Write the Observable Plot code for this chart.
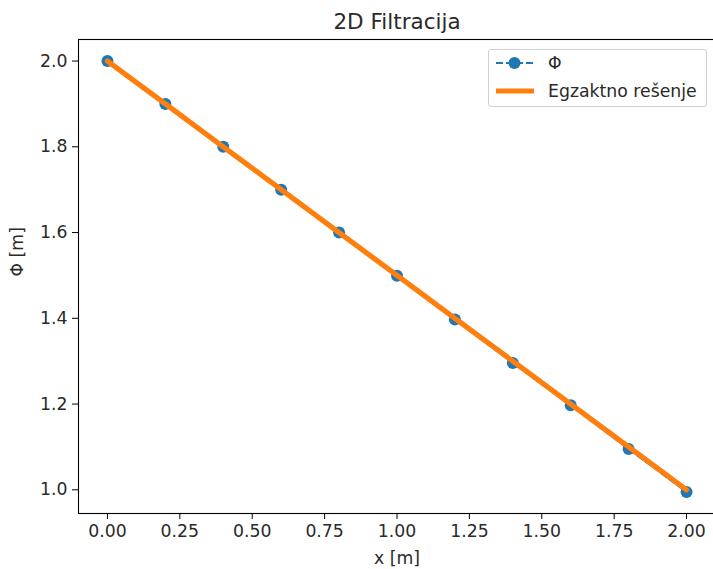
<!DOCTYPE html>
<html>
<head>
<meta charset="utf-8">
<script src="https://cdn.jsdelivr.net/npm/d3@7"></script>
<script src="https://cdn.jsdelivr.net/npm/@observablehq/plot@0.6"></script>
<style>
  html, body { margin: 0; padding: 0; background: #fff; overflow: hidden; }
  #wrap { position: relative; width: 713px; height: 569px; overflow: hidden; }
  #wrap > svg { max-width: none !important; display: block; }
  #legend { position: absolute; left: 488px; top: 49px; width: 219px; height: 58px;
    box-sizing: border-box; border: 1px solid #d0d0d0; border-radius: 3px; background: rgba(255,255,255,0.8); }
  svg text { font-family: "DejaVu Sans", sans-serif; }
</style>
</head>
<body>
<div id="wrap"></div>
<script>
const xValues = [0, 0.2, 0.4, 0.6, 0.8, 1.0, 1.2, 1.4, 1.6, 1.8, 2.0];
const phiValues = [2.0, 1.9, 1.8, 1.7, 1.6, 1.499, 1.397, 1.296, 1.197, 1.095, 0.995];
const exactValues = [2.0, 1.9, 1.8, 1.7, 1.6, 1.5, 1.4, 1.3, 1.2, 1.1, 1.0];
const xTicks = [0, 0.25, 0.5, 0.75, 1.0, 1.25, 1.5, 1.75, 2.0];
const yTicks = [1.0, 1.2, 1.4, 1.6, 1.8, 2.0];
const titleText = "2D Filtracija";
const xLabel = "x [m]";
const yLabel = "Φ [m]";
const seriesNames = ["Φ", "Egzaktno rešenje"];

const numData = xValues.map((x, i) => ({x, y: phiValues[i]}));
const exactData = xValues.map((x, i) => ({x, y: exactValues[i]}));

const blue = "#1f77b4", orange = "#ff7f0e";
const FS = 17.3;

const chart = Plot.plot({
  width: 720,
  height: 569,
  marginLeft: 78,
  marginRight: 5,
  marginTop: 39,
  marginBottom: 56,
  style: {fontFamily: "DejaVu Sans, sans-serif", fontSize: FS + "px", color: "#000", background: "#fff", maxWidth: "none"},
  x: {domain: [-0.1, 2.1], ticks: xTicks, tickFormat: d3.format(".2f"), label: null},
  y: {domain: [0.94475, 2.05025], ticks: yTicks, tickFormat: d3.format(".1f"), label: null},
  marks: [
    Plot.lineY(numData, {x: "x", y: "y", stroke: blue, strokeWidth: 2, strokeDasharray: "7,3"}),
    Plot.dot(numData, {x: "x", y: "y", r: 6, fill: blue, stroke: "none"}),
    Plot.lineY(exactData, {x: "x", y: "y", stroke: orange, strokeWidth: 5.2}),
    Plot.frame({stroke: "#000", strokeWidth: 1.1}),
    Plot.axisX({ticks: xTicks, tickFormat: d3.format(".2f"), tickSize: 6, tickPadding: 5, fontSize: FS, label: null, fill: "#2a2a2a"}),
    Plot.axisY({ticks: yTicks, tickFormat: d3.format(".1f"), tickSize: 6, tickPadding: 5, fontSize: FS, label: null, fill: "#2a2a2a"}),
    Plot.text([titleText], {frameAnchor: "top", dy: -26, fontSize: 21.5, fill: "#2a2a2a", text: d => d}),
    Plot.text([xLabel], {frameAnchor: "bottom", dy: 50, fontSize: FS, fill: "#2a2a2a", text: d => d}),
    Plot.text([yLabel], {frameAnchor: "left", dx: -61, rotate: -90, fontSize: FS, fill: "#2a2a2a", text: d => d})
  ]
});
document.getElementById("wrap").appendChild(chart);

// legend
const legend = document.createElement("div");
legend.id = "legend";
legend.innerHTML = `
<svg width="219" height="58" xmlns="http://www.w3.org/2000/svg">
  <line x1="7" x2="44" y1="13" y2="13" stroke="${blue}" stroke-width="2" stroke-dasharray="7,3"/>
  <circle cx="25.5" cy="13" r="6" fill="${blue}"/>
  <text x="59" y="13" dy="0.35em" font-size="${FS}" fill="#2a2a2a">${seriesNames[0]}</text>
  <line x1="7" x2="45" y1="41" y2="41" stroke="${orange}" stroke-width="5.2"/>
  <text x="59" y="41" dy="0.35em" font-size="${FS}" fill="#2a2a2a">${seriesNames[1]}</text>
</svg>`;
document.getElementById("wrap").appendChild(legend);
</script>
</body>
</html>
